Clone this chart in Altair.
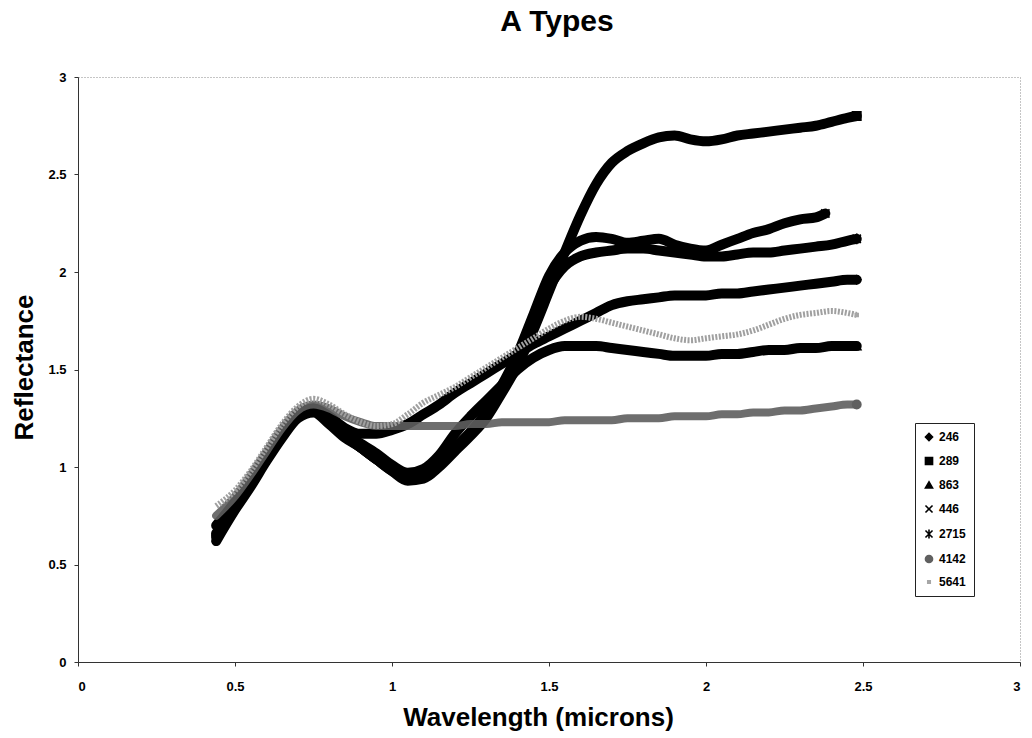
import altair as alt
import pandas as pd

# ---- data ----
series_names = ["246", "289", "863", "446", "2715", "4142", "5641"]

wl = [0.44, 0.5, 0.55, 0.6, 0.65, 0.7, 0.75, 0.8, 0.85, 0.9, 0.95, 1.0, 1.05, 1.1,
      1.15, 1.2, 1.25, 1.3, 1.35, 1.4, 1.45, 1.5, 1.55, 1.6, 1.65, 1.7, 1.75, 1.8,
      1.85, 1.9, 1.95, 2.0, 2.05, 2.1, 2.15, 2.2, 2.25, 2.3, 2.35, 2.4, 2.45, 2.48]
wl_446 = [0.44, 0.5, 0.55, 0.6, 0.65, 0.7, 0.75, 0.8, 0.85, 0.9, 0.95, 1.0, 1.05, 1.1,
          1.15, 1.2, 1.25, 1.3, 1.35, 1.4, 1.45, 1.5, 1.55, 1.6, 1.65, 1.7, 1.75, 1.8,
          1.85, 1.9, 1.95, 2.0, 2.05, 2.1, 2.15, 2.2, 2.25, 2.3, 2.35, 2.38]

r_246 = [0.70, 0.82, 0.93, 1.06, 1.17, 1.27, 1.30, 1.26, 1.20, 1.17, 1.17, 1.19, 1.22, 1.27,
         1.32, 1.38, 1.43, 1.48, 1.53, 1.58, 1.63, 1.67, 1.71, 1.75, 1.79, 1.83, 1.85, 1.86,
         1.87, 1.88, 1.88, 1.88, 1.89, 1.89, 1.90, 1.91, 1.92, 1.93, 1.94, 1.95, 1.96, 1.96]
r_289 = [0.62, 0.78, 0.90, 1.03, 1.15, 1.25, 1.28, 1.22, 1.15, 1.10, 1.04, 0.98, 0.93, 0.94,
         1.00, 1.08, 1.16, 1.25, 1.38, 1.52, 1.70, 1.90, 2.10, 2.29, 2.45, 2.56, 2.62, 2.66,
         2.69, 2.70, 2.68, 2.67, 2.68, 2.70, 2.71, 2.72, 2.73, 2.74, 2.75, 2.77, 2.79, 2.80]
r_863 = [0.65, 0.80, 0.92, 1.05, 1.16, 1.26, 1.30, 1.24, 1.17, 1.12, 1.07, 1.01, 0.97, 0.99,
         1.06, 1.17, 1.26, 1.34, 1.42, 1.50, 1.56, 1.60, 1.62, 1.62, 1.62, 1.61, 1.60, 1.59,
         1.58, 1.57, 1.57, 1.57, 1.58, 1.58, 1.59, 1.60, 1.60, 1.61, 1.61, 1.62, 1.62, 1.62]
r_446 = [0.66, 0.80, 0.92, 1.05, 1.16, 1.26, 1.29, 1.23, 1.16, 1.10, 1.04, 0.99, 0.95, 0.96,
         1.02, 1.10, 1.18, 1.28, 1.42, 1.58, 1.78, 1.98, 2.10, 2.16, 2.18, 2.17, 2.15, 2.16,
         2.17, 2.14, 2.12, 2.11, 2.14, 2.17, 2.20, 2.22, 2.25, 2.27, 2.28, 2.30]
r_2715 = [0.64, 0.80, 0.92, 1.05, 1.16, 1.26, 1.29, 1.23, 1.16, 1.10, 1.04, 0.98, 0.94, 0.95,
          1.01, 1.09, 1.17, 1.27, 1.40, 1.56, 1.74, 1.92, 2.03, 2.08, 2.10, 2.11, 2.12, 2.12,
          2.11, 2.10, 2.09, 2.08, 2.08, 2.09, 2.10, 2.10, 2.11, 2.12, 2.13, 2.14, 2.16, 2.17]
r_4142 = [0.75, 0.85, 0.96, 1.08, 1.20, 1.29, 1.32, 1.30, 1.26, 1.23, 1.21, 1.21, 1.21, 1.21,
          1.21, 1.21, 1.22, 1.22, 1.23, 1.23, 1.23, 1.23, 1.24, 1.24, 1.24, 1.24, 1.25, 1.25,
          1.25, 1.26, 1.26, 1.26, 1.27, 1.27, 1.28, 1.28, 1.29, 1.29, 1.30, 1.31, 1.32, 1.32]
r_5641 = [0.80, 0.88, 0.98, 1.10, 1.22, 1.31, 1.35, 1.32, 1.27, 1.23, 1.21, 1.22, 1.27, 1.33,
          1.37, 1.41, 1.46, 1.51, 1.56, 1.61, 1.66, 1.71, 1.75, 1.77, 1.76, 1.74, 1.72, 1.70,
          1.68, 1.66, 1.65, 1.66, 1.67, 1.68, 1.70, 1.73, 1.76, 1.78, 1.79, 1.80, 1.79, 1.78]

series_x = {"246": wl, "289": wl, "863": wl, "446": wl_446, "2715": wl, "4142": wl, "5641": wl}
series_y = {"246": r_246, "289": r_289, "863": r_863, "446": r_446, "2715": r_2715,
            "4142": r_4142, "5641": r_5641}

series_colors = ["#000000", "#000000", "#000000", "#000000", "#000000", "#606060", "#a6a6a6"]
series_shapes = [
    "diamond", "square", "triangle-up",
    "M-1,-1L1,1M-1,1L1,-1",
    "M-1,-1L1,1M-1,1L1,-1M0,-1.3L0,1.3",
    "circle",
    "M-0.35,-0.35L0.35,-0.35L0.35,0.35L-0.35,0.35Z",
]

rows = []
for s in series_names:
    for x, y in zip(series_x[s], series_y[s]):
        rows.append({"series": s, "wavelength": x, "reflectance": y})
df = pd.DataFrame(rows)
ends = pd.DataFrame([{"series": s, "wavelength": series_x[s][-1], "reflectance": series_y[s][-1]}
                     for s in series_names])

FONT = "Liberation Sans"

x_enc = alt.X("wavelength:Q",
              scale=alt.Scale(domain=[0, 3], nice=False, zero=False),
              axis=alt.Axis(values=[0, 0.5, 1, 1.5, 2, 2.5, 3], format="~g", grid=False,
                            title="Wavelength (microns)", titleFontSize=26,
                            titleX=460, titleY=63, titleBaseline="alphabetic",
                            labelPadding=14, tickSize=4))
y_enc = alt.Y("reflectance:Q",
              scale=alt.Scale(domain=[0, 3], nice=False, zero=True),
              axis=alt.Axis(values=[0, 0.5, 1, 1.5, 2, 2.5, 3], format="~g", grid=False,
                            title="Reflectance", titleFontSize=26,
                            titleX=-46, titleY=290, titleBaseline="alphabetic",
                            titleAngle=270, titleAlign="center",
                            labelPadding=8, tickSize=4))

base = alt.Chart(df)

black_lines = base.transform_filter(
    alt.FieldOneOfPredicate(field="series", oneOf=["246", "289", "863", "446", "2715"])
).mark_line(strokeWidth=10, strokeCap="round", strokeJoin="round",
            interpolate="monotone", color="#000000").encode(
    x=x_enc, y=y_enc, detail="series:N")

gray_line = base.transform_filter(
    alt.FieldEqualPredicate(field="series", equal="4142")
).mark_line(strokeWidth=8, strokeCap="round", interpolate="monotone",
            color="#5e5e5e", opacity=0.9).encode(
    x="wavelength:Q", y="reflectance:Q", detail="series:N")

light_line = base.transform_filter(
    alt.FieldEqualPredicate(field="series", equal="5641")
).mark_line(strokeWidth=6, strokeDash=[2, 1.5], interpolate="monotone",
            color="#a0a0a0").encode(
    x="wavelength:Q", y="reflectance:Q", detail="series:N")

markers = alt.Chart(ends).mark_point(filled=True, size=70, strokeWidth=1.6, opacity=1).encode(
    x="wavelength:Q",
    y="reflectance:Q",
    color=alt.Color("series:N",
                    scale=alt.Scale(domain=series_names, range=series_colors),
                    legend=alt.Legend(title=None, orient="none", legendX=837, legendY=346,
                                      padding=8, rowPadding=10, symbolSize=50,
                                      labelFontSize=12, labelFontWeight="bold",
                                      labelFont=FONT, symbolStrokeWidth=1.6,
                                      strokeColor="#222222", fillColor="#ffffff")),
    stroke=alt.Stroke("series:N",
                      scale=alt.Scale(domain=series_names, range=series_colors),
                      legend=None),
    shape=alt.Shape("series:N",
                    scale=alt.Scale(domain=series_names, range=series_shapes),
                    legend=None),
)

chart = alt.layer(black_lines, gray_line, light_line, markers).properties(
    width=942, height=585,
    autosize=alt.AutoSizeParams(type="none"),
    padding={"left": 78, "top": 77, "right": 12, "bottom": 76},
    title=alt.TitleParams("A Types", font=FONT, fontSize=30, fontWeight="bold",
                          baseline="alphabetic", offset=10, frame="group", dx=8,
                          color="#000000"),
).configure_view(
    stroke="#8a8a8a", strokeDash=[1, 2], strokeWidth=1
).configure_axis(
    labelFont=FONT, labelFontSize=13, labelFontWeight="bold", labelColor="#000000",
    titleFont=FONT, titleFontWeight="bold", titleColor="#000000",
    domainColor="#333333", tickColor="#333333", domainWidth=1
).configure_legend(
    labelFont=FONT
)

chart.save("out.html", embed_options={"renderer": "svg", "actions": False})
